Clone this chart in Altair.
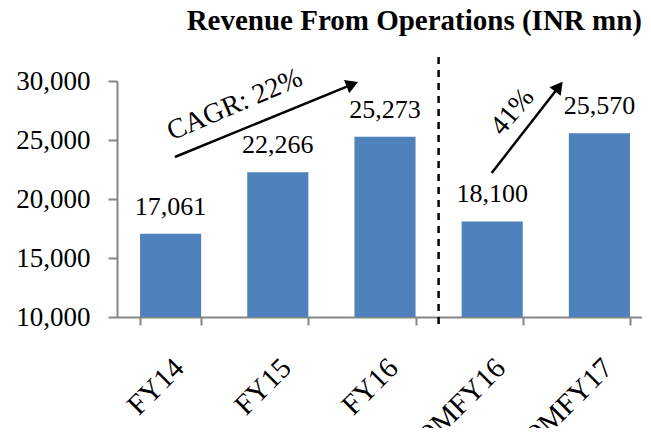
import altair as alt
import pandas as pd

categories = ["FY14", "FY15", "FY16", "9MFY16", "9MFY17"]
revenue = [17061, 22266, 25273, 18100, 25570]
chart_title = ["Revenue From Operations (INR mn)"]

# annotation arrows (x in band-index units 0..5, y in INR mn)
arrow_x = [0.54, 3.495]
arrow_y = [23560, 22200]
arrow_x2 = [2.195, 4.122]
arrow_y2 = [29720, 29520]
arrow_angle = [68, 38]
note_text = ["CAGR: 22%", "41%"]
note_x = [1.10, 3.69]
note_y = [27970, 27370]
note_angle = [337, 310]
divider_x = [3.0]
divider_y = [32030]
divider_y2 = [9070]

FONT = "Liberation Serif"
GRAY = "#868686"

bars_df = pd.DataFrame({"cat": categories, "rev": revenue})
arrows_df = pd.DataFrame({"x": arrow_x, "y": arrow_y, "x2": arrow_x2, "y2": arrow_y2, "ang": arrow_angle})
notes_df = pd.DataFrame({"x": note_x, "y": note_y, "t": note_text, "ang": note_angle})
div_df = pd.DataFrame({"x": divider_x, "y": divider_y, "y2": divider_y2})
title_df = pd.DataFrame({"t": chart_title})

yscale = alt.Scale(domain=[10000, 30000], nice=False, zero=False)
xq = alt.Scale(domain=[0, 5], nice=False, zero=False)

xband = alt.X(
    "cat:N", sort=categories, title=None,
    scale=alt.Scale(paddingInner=0.43, paddingOuter=0.215),
    axis=alt.Axis(labelAngle=315, labelAlign="right", labelBaseline="middle",
                  labelFont=FONT, labelFontSize=29, labelColor="black",
                  tickBand="extent", tickSize=8, tickColor=GRAY, domainColor=GRAY,
                  domainWidth=2, tickWidth=2, labelPadding=38, labelOffset=8),
)

bars = alt.Chart(bars_df).mark_bar(color="#4F81BD").encode(
    x=xband,
    y=alt.Y("rev:Q", scale=yscale, title=None,
            axis=alt.Axis(values=[10000, 15000, 20000, 25000, 30000],
                          labelExpr="format(datum.value, ',')",
                          labelFont=FONT, labelFontSize=27, labelColor="black",
                          tickSize=9, tickColor=GRAY, domainColor=GRAY, domainWidth=2,
                          tickWidth=2, labelPadding=18, grid=False)),
    y2=alt.datum(10000),
)

labels = alt.Chart(bars_df).mark_text(font=FONT, fontSize=26, baseline="alphabetic", dy=-19, color="black").encode(
    x=alt.X("cat:N", sort=categories, axis=None),
    y=alt.Y("rev:Q", scale=yscale, axis=None),
    text=alt.Text("rev:Q", format=","),
)

lines = alt.Chart(arrows_df).mark_rule(color="black", strokeWidth=2.5).encode(
    x=alt.X("x:Q", scale=xq, axis=None), x2="x2:Q",
    y=alt.Y("y:Q", scale=yscale, axis=None), y2="y2:Q",
)

heads = alt.Chart(arrows_df).mark_point(shape="triangle-up", filled=True, size=200, color="black", opacity=1).encode(
    x=alt.X("x2:Q", scale=xq, axis=None),
    y=alt.Y("y2:Q", scale=yscale, axis=None),
    angle=alt.Angle("ang:Q", scale=None),
)

notes = alt.Chart(notes_df).mark_text(font=FONT, fontSize=28, color="black").encode(
    x=alt.X("x:Q", scale=xq, axis=None),
    y=alt.Y("y:Q", scale=yscale, axis=None),
    text="t:N",
    angle=alt.Angle("ang:Q", scale=None),
)

divider = alt.Chart(div_df).mark_rule(color="black", strokeWidth=2.5, strokeDash=[7, 6]).encode(
    x=alt.X("x:Q", scale=xq, axis=None),
    y=alt.Y("y:Q", scale=yscale, axis=None), y2="y2:Q",
)

title_mark = alt.Chart(title_df).mark_text(
    font=FONT, fontSize=29, fontWeight="bold", color="black",
    align="right", baseline="alphabetic",
).encode(x=alt.value(525), y=alt.value(-51), text="t:N")

band_layer = alt.layer(bars, labels).resolve_axis(x="independent", y="independent")
ann_layer = alt.layer(divider, lines, heads, notes).resolve_axis(x="independent", y="independent")

chart = alt.layer(band_layer, ann_layer, title_mark).resolve_scale(x="independent").resolve_axis(
    x="independent", y="independent").properties(
    width=536, height=236,
    autosize=alt.AutoSizeParams(type="none"),
    padding={"left": 109, "top": 73, "right": -11, "bottom": 111},
).configure_view(stroke=None)

chart.save("out.html", embed_options={"renderer": "svg", "actions": False})
